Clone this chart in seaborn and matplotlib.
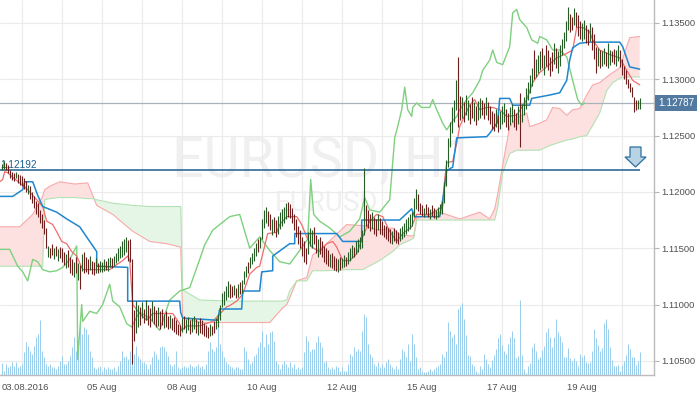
import numpy as np
import matplotlib
matplotlib.use("Agg")
import matplotlib.pyplot as plt
import matplotlib.transforms as mtransforms
from matplotlib.patches import Polygon
import seaborn as sns

# ---------------- data (prices stored as pips above 1.1000) ----------------
PRICE_BASE = 1.1
PIP = 0.0001

bar_high = [
    225, 227, 226, 224, 219, 218, 217, 218, 216, 215,
    214, 212, 210, 206, 205, 200, 196, 192, 190, 184,
    180, 175, 168, 152, 150, 154, 150, 152, 149, 151,
    150, 147, 145, 148, 142, 140, 138, 142, 137, 135,
    145, 147, 142, 140, 143, 139, 138, 141, 137, 139,
    138, 140, 139, 141, 142, 141, 143, 146, 150, 152,
    156, 158, 160, 157, 158, 140, 95, 103, 100, 98,
    102, 96, 104, 100, 97, 103, 99, 95, 98, 94,
    96, 92, 94, 90, 91, 88, 89, 86, 83, 82,
    88, 90, 87, 89, 86, 88, 90, 87, 85, 88,
    86, 84, 82, 80, 83, 81, 85, 88, 92, 100,
    110, 112, 116, 121, 118, 116, 117, 115, 118, 120,
    122, 130, 134, 138, 142, 146, 150, 155, 158, 160,
    176, 184, 187, 183, 180, 176, 178, 175, 179, 182,
    185, 187, 190, 191, 189, 186, 180, 176, 170, 166,
    160, 156, 150, 164, 168, 166, 169, 162, 158, 160,
    156, 152, 150, 148, 145, 146, 143, 141, 140, 142,
    141, 144, 142, 147, 150, 153, 151, 156, 158, 160,
    166, 221, 188, 184, 180, 182, 178, 176, 180, 177,
    174, 171, 170, 168, 167, 165, 168, 166, 164, 168,
    170, 172, 176, 178, 180, 182, 195, 203, 198, 190,
    188, 186, 189, 187, 185, 188, 186, 184, 187, 189,
    192, 209, 228, 248, 262, 275, 282, 299, 320, 285,
    284, 280, 286, 282, 278, 284, 280, 276, 281, 283,
    282, 279, 284, 280, 276, 272, 270, 274, 268, 272,
    276, 279, 274, 270, 275, 278, 274, 270, 276, 288,
    278, 284, 292, 298, 304, 310, 326, 318, 322, 325,
    328, 322, 330, 326, 320, 324, 332, 328, 325, 330,
    336, 342, 352, 364, 358, 355, 363, 360, 357, 352,
    350, 353, 348, 345, 350, 346, 340, 329, 328, 326,
    325, 328, 324, 332, 326, 325, 327, 326, 330, 326,
    318, 312, 308, 300, 297, 293, 284, 282, 282, 283,
]
bar_low = [
    219, 220, 219, 217, 212, 211, 210, 212, 208, 206,
    205, 203, 200, 198, 194, 190, 186, 180, 178, 172,
    168, 163, 150, 142, 141, 144, 140, 143, 139, 141,
    138, 135, 132, 133, 128, 126, 124, 128, 122, 114,
    130, 128, 129, 127, 131, 127, 126, 128, 128, 129,
    129, 130, 131, 130, 133, 132, 134, 137, 139, 141,
    142, 144, 147, 139, 138, 47, 68, 75, 80, 82,
    88, 84, 86, 82, 80, 85, 83, 80, 81, 78,
    82, 79, 80, 78, 79, 77, 76, 74, 73, 72,
    76, 78, 75, 77, 74, 76, 78, 75, 73, 75,
    74, 72, 71, 70, 72, 73, 75, 78, 80, 86,
    98, 100, 104, 107, 106, 107, 108, 106, 107, 109,
    110, 118, 124, 128, 132, 136, 139, 143, 147, 150,
    158, 168, 172, 170, 166, 162, 164, 160, 163, 167,
    170, 172, 176, 178, 177, 172, 166, 160, 154, 150,
    143, 138, 136, 145, 152, 150, 154, 146, 142, 145,
    142, 138, 136, 134, 133, 132, 131, 130, 129, 131,
    132, 133, 134, 136, 139, 141, 142, 145, 147, 149,
    150, 162, 170, 168, 165, 167, 163, 161, 166, 163,
    162, 160, 158, 156, 155, 154, 156, 155, 154, 156,
    158, 160, 163, 165, 167, 170, 178, 185, 183, 180,
    179, 178, 180, 178, 176, 179, 177, 176, 178, 180,
    180, 190, 205, 222, 240, 252, 262, 273, 258, 264,
    266, 262, 268, 264, 260, 266, 263, 259, 264, 266,
    268, 265, 268, 264, 260, 256, 254, 258, 253, 256,
    260, 262, 258, 255, 259, 262, 258, 255, 260, 240,
    262, 268, 274, 282, 288, 294, 300, 302, 306, 308,
    310, 304, 312, 308, 303, 307, 314, 310, 306, 312,
    322, 328, 334, 344, 342, 344, 348, 346, 338, 336,
    334, 336, 332, 330, 334, 326, 318, 306, 312, 310,
    312, 314, 312, 310, 313, 315, 314, 312, 316, 311,
    304, 300, 296, 292, 289, 284, 271, 273, 274, 274,
]
bar_dir = (
    "uudddddudd" "dddudddddd" "ddduddudud" "ddudddudud"
    "uddduddudu" "uuduuduuuu" "uuudddduud" "ududduddud"
    "dudduddddd" "uduuduudud" "ddddudduuu" "uuuuddudud"
    "uuuduuuudu" "uuuddudduu" "uuuddddddd" "ddduuuddud"
    "ddddudddud" "uuduuuduuu" "uuddduddud" "dddddudddu"
    "uuuuuuuudd" "duddudduuu" "uuuuuuuudd" "uduudduduu"
    "dduddddudu" "uudduuddud" "uuuuuuduuu" "dudddduduu"
    "uuuudduddd" "uuddudddud" "uuduudduud" "dddddddduu"
)
volume = [
    12, 4, 11, 8, 9, 13, 9, 13, 8, 9,
    11, 23, 33, 29, 24, 21, 29, 38, 41, 55,
    24, 18, 11, 9, 11, 8, 8, 6, 9, 14,
    19, 11, 11, 14, 19, 28, 38, 24, 31, 54,
    41, 48, 46, 41, 24, 18, 8, 6, 8, 9,
    4, 8, 6, 8, 6, 6, 8, 4, 9, 14,
    24, 18, 19, 16, 24, 61, 21, 29, 19, 16,
    13, 13, 11, 6, 11, 18, 24, 21, 16, 28,
    29, 28, 24, 19, 11, 9, 11, 24, 8, 6,
    8, 9, 8, 8, 11, 9, 8, 9, 11, 8,
    9, 6, 11, 24, 33, 26, 24, 28, 53, 31,
    24, 18, 13, 11, 9, 8, 6, 8, 8, 6,
    6, 28, 24, 16, 11, 13, 19, 21, 28, 33,
    44, 28, 41, 31, 43, 44, 34, 14, 11, 6,
    11, 14, 11, 8, 13, 8, 11, 6, 8, 6,
    8, 23, 39, 34, 24, 26, 26, 33, 39, 33,
    28, 13, 14, 8, 6, 8, 6, 9, 8, 4,
    8, 4, 4, 11, 21, 19, 28, 24, 26, 24,
    44, 61, 58, 31, 21, 18, 11, 9, 13, 8,
    11, 8, 13, 16, 11, 8, 6, 9, 6, 16,
    26, 24, 18, 31, 14, 41, 31, 18, 6, 8,
    4, 3, 3, 4, 6, 4, 6, 8, 9, 11,
    21, 18, 24, 53, 44, 38, 41, 31, 66, 69,
    72, 56, 40, 20, 19, 11, 9, 4, 2, 9,
    6, 21, 16, 11, 8, 15, 20, 26, 37, 41,
    30, 24, 21, 31, 38, 44, 37, 17, 19, 75,
    20, 6, 2, 9, 12, 28, 32, 24, 16, 18,
    25, 29, 43, 47, 38, 28, 38, 56, 43, 39,
    33, 18, 18, 27, 17, 14, 17, 14, 9, 21,
    18, 20, 13, 12, 13, 24, 46, 37, 30, 24,
    27, 52, 56, 46, 28, 15, 9, 9, 10, 4,
    10, 14, 20, 31, 26, 18, 18, 10, 14, 23,
]

# Ichimoku lines (bar index, pips)
tenkan_k = [-1, 0.5, 1.5, 3, 5.5, 9, 13, 17.5, 20.5, 22.5, 25.5, 28, 30, 32.5, 35, 37.5,
            40.5, 54, 55.5, 60.5, 63, 64, 65.5, 69, 72.5, 75.5, 79, 85.5, 89, 90, 92.5,
            99, 105.5, 112.5, 114, 117.5, 120.5, 124, 127.5, 129, 130.5, 133, 137.5, 139,
            142.5, 147.5, 150, 152.5, 155, 159, 162.5, 165.5, 167.5, 170.5, 174, 177.5,
            180.5, 184, 187.5, 190.5, 194, 197.5, 200.5, 205, 207.5, 214, 220.5, 221.5,
            222.5, 225.5, 227.5, 229, 230.5, 234, 236.5, 239, 242.5, 245.5, 249, 252.5,
            257.5, 262.5, 265.5, 269, 272.5, 277.5, 282.5, 285.5, 287.5, 290.5, 294,
            295.5, 299, 304, 309, 312.5, 315.5, 319]
tenkan_p = [209, 211, 218, 217, 213, 208, 202, 193, 187, 174, 171, 163, 156, 154, 147, 143,
            131, 131, 133, 139, 143, 139, 100, 92, 86, 92, 92, 92, 83, 77, 81,
            81, 85, 98, 99, 103, 109, 127, 133, 134, 145, 163, 164, 171,
            178, 178, 171, 160, 151, 147, 154, 156, 151, 139, 139, 145,
            160, 174, 180, 178, 165, 156, 163, 169, 180, 180, 187, 211,
            226, 227, 243, 258, 264, 277, 282, 273, 275, 275, 273, 267,
            268, 282, 297, 306, 311, 319, 323, 326, 346, 346, 342,
            335, 326, 322, 319, 308, 299, 295]

kijun_k = [-1, 5.5, 10.5, 11.5, 15.5, 18, 20.5, 27.5, 32.5, 39, 44, 47.5, 47.5, 63, 63,
           89, 89.5, 90.5, 108, 109, 120, 120.5, 129, 130, 135.5, 135.5, 144, 146.5, 146.5,
           167.5, 170.5, 180, 180, 199, 205, 206.5, 219, 220.5, 222.5, 225.5, 227.5, 242.5,
           244, 248, 249, 254, 255.5, 264, 265, 274, 279, 282.5, 284, 285.5, 289, 294, 309,
           310.5, 314, 319]
kijun_p = [196, 196, 202, 209, 209, 197, 187, 182, 176, 169, 156, 147, 134, 133, 103,
           103, 93, 88, 86, 96, 96, 112, 112, 129, 130, 143, 154, 154, 163,
           163, 156, 156, 175, 175, 185, 178, 178, 193, 219, 222, 248, 249,
           252, 262, 283, 283, 277, 277, 283, 286, 288, 299, 317, 328, 332, 333, 333,
           329, 311, 309]

chikou_k = [-1, 4, 8, 10.5, 13, 15.5, 18, 20.5, 24, 27.5, 30.5, 34, 37.5, 38, 40, 40.5,
            44, 47.5, 50.5, 54, 55.5, 59, 62.5, 65, 67.5, 69, 74, 79, 84, 89, 94, 99, 101.5,
            105.5, 109, 114, 119, 124, 129, 134, 139, 144, 149, 153, 154.5, 156, 159, 164,
            169, 174, 179, 181.5, 184, 189, 194, 196.5, 198, 200, 201.5, 203, 205, 205.5,
            207.5, 210, 214, 215.5, 217.5, 220.5, 222.5, 225, 227.5, 229, 232.5, 235.5, 239,
            240.5, 244, 245.5, 247.5, 250.5, 254, 255.5, 257.5, 259, 262.5, 265, 268, 269,
            272.5, 275.5, 279, 282.5, 285.5, 288, 290, 291.5]
chikou_p = [149, 149, 134, 129, 121, 140, 138, 131, 129, 130, 133, 140, 152, 51, 100, 85,
            94, 92, 100, 118, 103, 98, 83, 80, 89, 93, 88, 77, 104, 112, 115, 140, 153,
            166, 171, 178, 180, 150, 160, 148, 138, 136, 148, 158, 211, 180, 174, 168,
            160, 165, 176, 195, 184, 182, 193, 248, 258, 273, 293, 273, 267, 275,
            279, 275, 275, 282, 273, 261, 255, 262, 267, 273, 282, 288, 299,
            308, 317, 326, 315, 313, 329, 359, 362, 353, 346, 335, 332, 338,
            335, 326, 326, 320, 299, 282, 277, 279]

cloud_k = [-1, 9, 15.5, 20.5, 21.5, 24, 29, 36.5, 43, 45.5, 47.5, 55.5, 65.5, 74, 82.5,
           89.5, 90.5, 99, 114, 124, 134, 140.5, 142.5, 144, 147.5, 152.5, 155.5, 162.5,
           172.5, 180.5, 189, 195.5, 199, 204, 206, 207.5, 219, 229, 239, 244, 246.5, 248,
           250.5, 254, 257.5, 262.5, 264, 269, 272.5, 275.5, 279, 282.5, 285.5, 289, 292.5,
           295.5, 299, 302.5, 305.5, 309, 312.5, 314, 319]
span_a = [169, 169, 180, 196, 202, 205, 209, 207, 208, 197, 188, 180, 165, 156, 154,
          151, 88, 84, 84, 84, 84, 97, 100, 106, 121, 124, 144, 154,
          171, 170, 166, 168, 162, 161, 161, 177, 182, 176, 182, 176, 185, 198,
          224, 258, 266, 270, 258, 261, 264, 275, 274, 268, 273, 274, 286,
          295, 297, 302, 306, 310, 329, 337, 338]
span_b = [134, 134, 134, 134, 193, 194, 195, 195, 194, 194, 193, 190, 188, 187, 187,
          187, 113, 104, 103, 103, 103, 103, 104, 112, 121, 121, 130, 130,
          131, 131, 139, 147, 153, 157, 159, 175, 175, 175, 175, 175, 175, 186,
          217, 234, 237, 237, 237, 237, 240, 242, 244, 246, 247, 249, 250,
          259, 270, 290, 297, 301, 302, 302, 302]

level_line = 1.12192
last_price = 1.12787
price_ticks = [1.105, 1.110, 1.115, 1.120, 1.125, 1.130, 1.135]
date_tick_k = [10, 50, 90, 130, 170, 210, 250, 290]
date_labels = ["03.08.2016", "05 Aug", "08 Aug", "10 Aug", "12 Aug", "15 Aug", "17 Aug", "19 Aug"]
grid_minor_k = [30, 70, 110, 150, 190, 230, 270, 310]


def to_price(p):
    return PRICE_BASE + np.asarray(p, dtype=float) * PIP


# ---------------- figure ----------------
sns.set_theme(style="white")
plt.rcParams['font.family'] = ['Liberation Sans', 'DejaVu Sans']

W, H = 700, 394
fig = plt.figure(figsize=(W / 100, H / 100), dpi=100)
fig.patch.set_facecolor("white")
ax = fig.add_axes([0, 19 / H, 654 / W, 375 / H])
ax.set_facecolor("white")
ax.set_xlim(-0.85, 326.15)
ax.set_ylim(1.10374, 1.13704)

# watermark
ax.text(0.495, 0.528, "EURUSD, H1", transform=ax.transAxes, ha="center", va="baseline",
        fontsize=40, color="#f0f0f0", family="Roboto", zorder=0.2)
ax.text(0.4985, 0.437, "EURUSD", transform=ax.transAxes, ha="center", va="baseline",
        fontsize=20, color="#f0f0f0", family="Roboto", zorder=0.2)

# axes, ticks, grid
ax.set_axisbelow(True)
ax.yaxis.tick_right()
ax.set_yticks(price_ticks)
ax.set_yticklabels([f"{v:.5f}" for v in price_ticks])
ax.set_xticks(date_tick_k)
ax.set_xticklabels(date_labels)
ax.set_xticks(grid_minor_k, minor=True)
ax.grid(True, which="both", color="#ebebeb", lw=0.8)
ax.tick_params(axis="x", which="minor", length=0)
ax.tick_params(axis="x", which="major", length=3.5, width=0.8, color="#b5b5b5",
               labelsize=6.8, labelcolor="#505050", pad=2)
ax.tick_params(axis="y", which="major", length=3.5, width=0.8, color="#b5b5b5",
               labelsize=6.8, labelcolor="#505050", pad=2, right=True, left=False)
for s in ["top", "left"]:
    ax.spines[s].set_visible(False)
for s in ["right", "bottom"]:
    ax.spines[s].set_color("#bcbcbc")
    ax.spines[s].set_linewidth(1.0)

# keep the first date label inside the figure
first_lbl = ax.get_xticklabels()[0]
first_lbl.set_transform(first_lbl.get_transform() +
                        mtransforms.ScaledTranslation(4 / 100, 0, fig.dpi_scale_trans))

k_bars = np.arange(len(bar_high))

# volume (bottom, scaled to axes height)
ax.vlines(k_bars, 0, np.asarray(volume, dtype=float) / 375.0,
          transform=ax.get_xaxis_transform(), colors="#99cdee", lw=0.7, zorder=0.8)

# cloud
ck = np.asarray(cloud_k, dtype=float)
A = to_price(span_a)
B = to_price(span_b)
ax.fill_between(ck, A, B, where=A >= B, interpolate=True, color="#fde1e1", lw=0, zorder=1)
ax.fill_between(ck, A, B, where=A < B, interpolate=True, color="#e6f6e6", lw=0, zorder=1)
sns.lineplot(x=ck, y=A, color="#f8aaaa", lw=0.8, estimator=None, sort=False, ax=ax,
             legend=False, zorder=1.2)
sns.lineplot(x=ck, y=B, color="#b2e2b2", lw=0.8, estimator=None, sort=False, ax=ax,
             legend=False, zorder=1.2)

# current price line
ax.axhline(last_price, color="#a9b2ba", lw=0.9, zorder=1.4)

# chikou, tenkan, kijun
sns.lineplot(x=chikou_k, y=to_price(chikou_p), color="#7fd07f", lw=1.0, estimator=None,
             sort=False, ax=ax, legend=False, zorder=1.6)
sns.lineplot(x=tenkan_k, y=to_price(tenkan_p), color="#f26c6c", lw=0.9, estimator=None,
             sort=False, ax=ax, legend=False, zorder=2.0)
sns.lineplot(x=kijun_k, y=to_price(kijun_p), color="#1f86cf", lw=1.1, estimator=None,
             sort=False, ax=ax, legend=False, zorder=2.1)

# level line and its label
ax.hlines(level_line, -0.85, k_bars[-1], color="#1b5f8e", lw=1.1, zorder=2.5)
ax.text(-0.6, level_line + 0.00004, f"{level_line:.5f}", color="#1b5f8e", fontsize=7.2,
        ha="left", va="bottom", zorder=2.6)

# OHLC bars
cols = ["#265c26" if c == "u" else "#6e1d1d" for c in bar_dir]
ax.vlines(k_bars, to_price(bar_low), to_price(bar_high), colors=cols, lw=0.8, zorder=3)

# last price tag
trans = mtransforms.blended_transform_factory(ax.transAxes, ax.transData)
ax.text(1.006, last_price, f"{last_price:.5f}", transform=trans, va="center", ha="left",
        fontsize=7.2, color="white", clip_on=False, zorder=5,
        bbox=dict(boxstyle="square,pad=0.3", fc="#527aa0", ec="none"))

# down-arrow icon (decoration, in axes fractions)
arrow_px = [(630, 147), (641, 147), (641, 157), (646, 157), (635.5, 167), (625, 157), (630, 157)]
arrow_ax = [(x / 654.0, 1 - y / 375.0) for x, y in arrow_px]
ax.add_patch(Polygon(arrow_ax, closed=True, transform=ax.transAxes, fc="#b7d3e4",
                     ec="#2f6f9c", lw=0.9, zorder=4))

fig.savefig("out.png", dpi=100)
